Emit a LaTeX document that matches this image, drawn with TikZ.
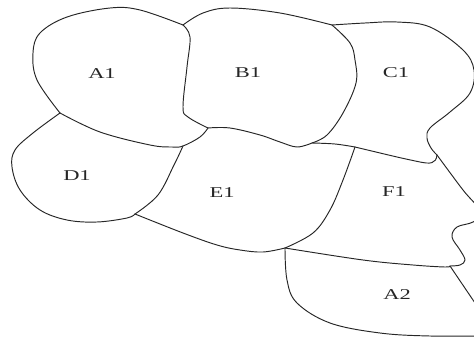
\documentclass[tikz,border=0pt]{standalone}
\usepackage{fontspec}
\setmainfont{Liberation Serif}
\begin{document}
\begin{tikzpicture}[x=1pt,y=-1pt,
  edge/.style={line width=0.95pt, black!85, line cap=round, line join=round},
  lbl/.style={font=\fontsize{15}{15}\selectfont, inner sep=0pt, text=black!85}]
\useasboundingbox (0,0) rectangle (474,337);
\clip (0,0) rectangle (474,337);
% junctions
\coordinate (jab) at (183,25);
\coordinate (jad) at (60,113);
\coordinate (jade) at (183,146);
\coordinate (jabe) at (208,128);
\coordinate (jbc) at (332,25);
\coordinate (jbce) at (312,143);
\coordinate (jcef) at (355,147);
\coordinate (jcf) at (437,155);
\coordinate (jde) at (135,214);
\coordinate (jefa) at (285,248);
\coordinate (jfa) at (450,266);
% A1 top/left
\draw[edge] plot[smooth, tension=0.6] coordinates {(jab) (140,10) (110,8) (67,17) (40,33) (33,53) (37,80) (jad)};
% A1 bottom
\draw[edge] plot[smooth, tension=0.6] coordinates {(jad) (100,132) (150,145) (172,147) (jade) (200,137) (jabe)};
% B1 left
\draw[edge] plot[smooth, tension=0.6] coordinates {(jab) (190,37) (187,67) (183,107) (188,117) (jabe)};
% B1 top
\draw[edge] plot[smooth, tension=0.6] coordinates {(jab) (203,13) (230,8) (280,13) (jbc)};
% B1 right
\draw[edge] plot[smooth, tension=0.6] coordinates {(jbc) (350,43) (355,60) (356,83) (343,113) (327,135) (jbce)};
% B1 bottom
\draw[edge] plot[smooth, tension=0.6] coordinates {(jabe) (230,128) (260,135) (280,142) (297,147) (jbce)};
% C1 / E1
\draw[edge] plot[smooth, tension=0.6] coordinates {(jbce) (335,144) (jcef)};
% C1 top/right
\draw[edge] plot[smooth, tension=0.6] coordinates {(jbc) (365,23) (397,22) (430,27) (463,50) (474,70) (470,93) (450,112) (430,128) (427,138) (431,148) (jcf)};
% C1 bottom
\draw[edge] plot[smooth, tension=0.6] coordinates {(jcef) (397,157) (420,162)} .. controls (430,164) and (436,164) .. (jcf);
% D1 outer
\draw[edge] plot[smooth, tension=0.6] coordinates {(jad) (33,133) (15,150) (12,167) (20,190) (40,210) (67,220) (97,222) (127,218) (jde)};
% D1 / E1
\draw[edge] plot[smooth, tension=0.6] coordinates {(jde) (158,195) (174,165) (jade)};
% E1 bottom
\draw[edge] plot[smooth, tension=0.6] coordinates {(jde) (183,233) (217,245) (240,250) (263,252) (jefa)};
% E1 / F1
\draw[edge] plot[smooth, tension=0.6] coordinates {(jefa) (313,233) (330,210) (343,180) (jcef)};
% F1 bottom
\draw[edge] plot[smooth, tension=0.6] coordinates {(jefa) (363,260) (413,265) (445,267) (jfa)};
% F1 right
\draw[edge] plot[smooth, tension=0.6] coordinates {(jcf) (463,190) (481,212) (473,222) (457,227) (452,237) (460,250) (465,260) (460,265) (jfa)};
% A2 left/bottom
\draw[edge] plot[smooth, tension=0.6] coordinates {(jefa) (287,280) (297,303) (330,323) (380,333) (430,336) (490,336)};
% A2 right
\draw[edge] plot[smooth, tension=0.6] coordinates {(jfa) (473,300) (490,325)};
% labels
\node[lbl] (a1) at (102,74) {\scalebox{1.5}[1]{A1}};
\node[lbl] (b1) at (248,73) {\scalebox{1.5}[1]{B1}};
\node[lbl] (c1) at (396,73) {\scalebox{1.5}[1]{C1}};
\node[lbl] (d1) at (77,176) {\scalebox{1.5}[1]{D1}};
\node[lbl] (e1) at (222,193) {\scalebox{1.5}[1]{E1}};
\node[lbl] (f1) at (394,192) {\scalebox{1.5}[1]{F1}};
\node[lbl] (a2) at (397,295) {\scalebox{1.5}[1]{A2}};
\end{tikzpicture}
\end{document}
